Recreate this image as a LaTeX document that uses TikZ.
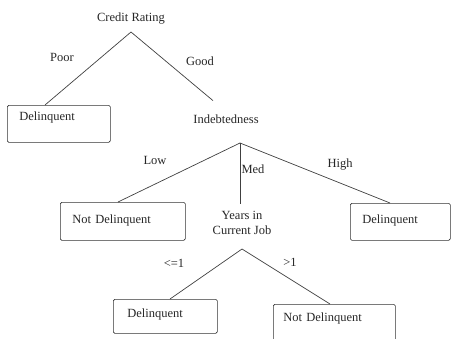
\documentclass[tikz,border=0pt]{standalone}
\usepackage{fontspec}
\setmainfont{Liberation Serif}
\begin{document}
\begin{tikzpicture}[x=1pt,y=-1pt,
  every node/.style={font=\fontsize{12.5}{15}\selectfont, text=black!85},
  lbl/.style={inner sep=1pt},
  box/.style={draw=black!80, line width=0.7pt, rounded corners=1.5pt, anchor=north west,
              inner ysep=0pt, inner xsep=12pt, align=left},
  edge/.style={draw=black!75, line width=0.7pt}]
\useasboundingbox (0,0) rectangle (452,338);
\clip (0,0) rectangle (452,338);

% internal nodes and labels
\node[lbl] (credit) at (131,19) {Credit Rating};
\node[lbl, anchor=base] (indeb) at (226,123) {Indebtedness};
\node[lbl, align=center] (years) at (242,223) {Years in\\Current Job};

\coordinate (ap1) at (131,32);
\coordinate (ap2) at (240,143);
\coordinate (ap3) at (242,249);

% leaf boxes
\node[box, text width=79pt, text height=15pt, text depth=22pt] (dq1) at (7,105) {Delinquent};
\node[box, text width=101pt, text height=21pt, text depth=17pt] (nd1) at (60,202) {Not Delinquent};
\node[box, text width=76pt, text height=20pt, text depth=17pt] (dq2) at (350,203) {Delinquent};
\node[box, inner xsep=14pt, text width=76pt, text height=18pt, text depth=16pt] (dq3) at (113,299) {Delinquent};
\node[box, inner xsep=10pt, text width=102pt, text height=17pt, text depth=26pt] (nd2) at (273,304) {Not Delinquent};

% branches
\draw[edge] (ap1) -- ([xshift=38pt]dq1.north west);
\draw[edge] (ap1) -- ([shift={(-13pt,12.5pt)}]indeb.north);
\draw[edge] (ap2) -- ([xshift=58pt]nd1.north west);
\draw[edge] (ap2) -- ([yshift=6pt]ap2 |- years.north);
\draw[edge] (ap2) -- ([xshift=40pt]dq2.north west);
\draw[edge] (ap3) -- ([xshift=57pt]dq3.north west);
\draw[edge] (ap3) -- ([xshift=57pt]nd2.north west);

% branch labels
\node[lbl] (poor) at (62,57) {Poor};
\node[lbl] (good) at (200,61) {Good};
\node[lbl] (low) at (155,160) {Low};
\node[lbl] (med) at (253,169) {Med};
\node[lbl] (high) at (340,165) {High};
\node[lbl] (le1) at (174,263) {<=1};
\node[lbl] (gt1) at (290,262) {>1};
\end{tikzpicture}
\end{document}
